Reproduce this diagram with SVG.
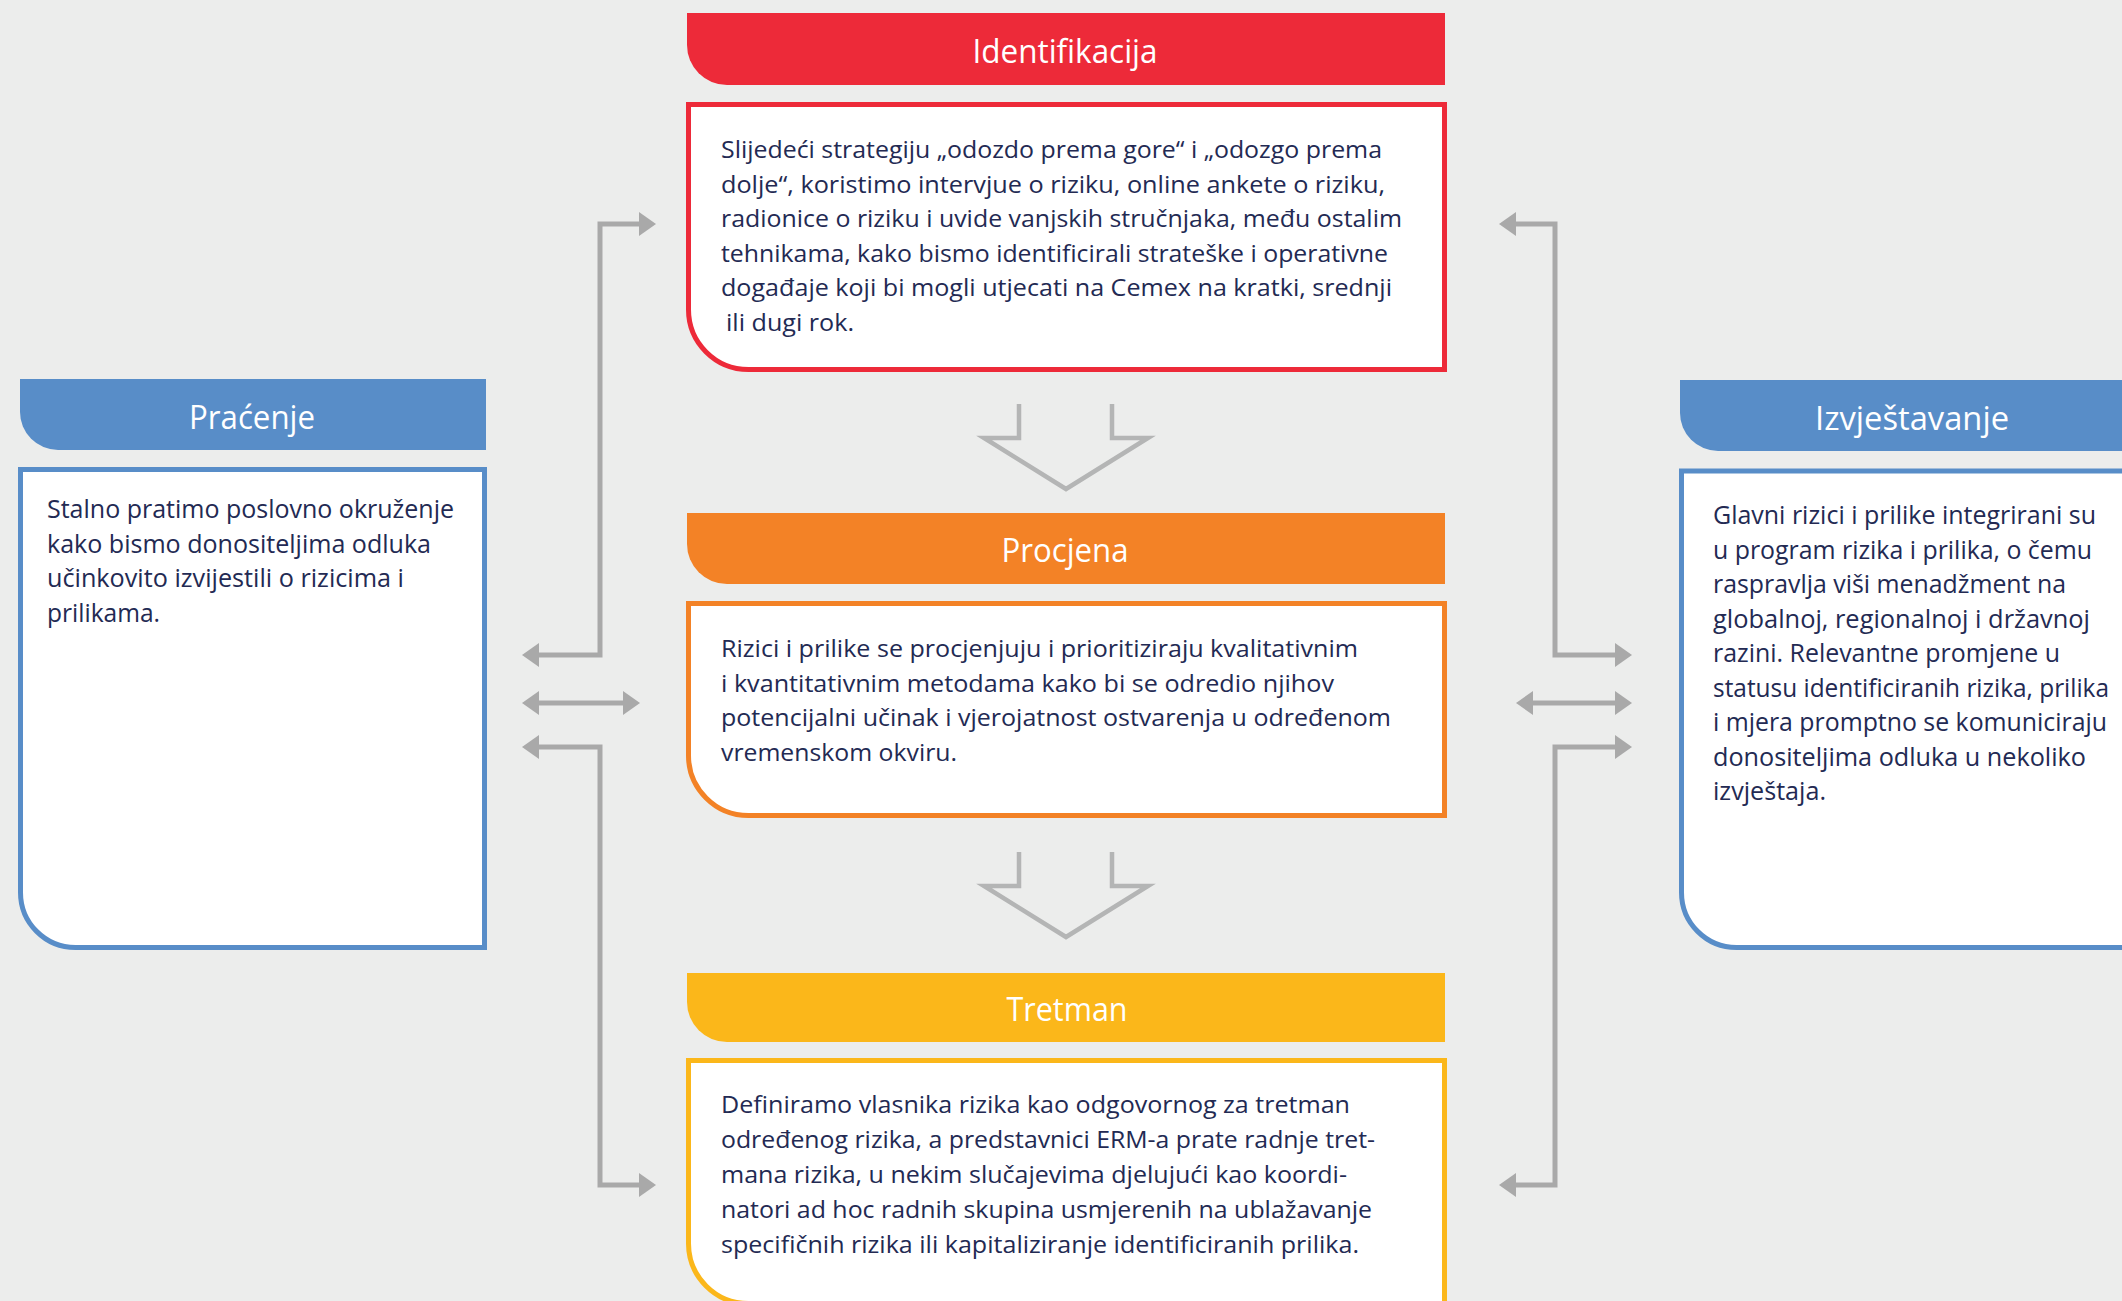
<svg xmlns="http://www.w3.org/2000/svg" width="2122" height="1301" viewBox="0 0 2122 1301">
<defs>
<style>
.hd{font-family:"Open Sans","Noto Sans","Liberation Sans",sans-serif;fill:#ffffff;text-anchor:middle;}
.hc{font-size:32px;}
.hs{font-size:33px;}
.bt{font-family:"Open Sans","Noto Sans","Liberation Sans",sans-serif;fill:#232a53;}
.bc{font-size:24px;}
.bs{font-size:25.5px;}
.box{fill:#ffffff;stroke-width:5;}
.con{fill:none;stroke:#a9a9a9;stroke-width:5;marker-start:url(#ah);marker-end:url(#ah);}
.chev{fill:none;stroke:#b4b5b5;stroke-width:4.5;}
</style>
<marker id="ah" viewBox="0 0 17 24" markerWidth="17" markerHeight="24" refX="0" refY="12" markerUnits="userSpaceOnUse" orient="auto-start-reverse">
<path d="M0,0 L17,12 L0,24 Z" fill="#a9a9a9"/>
</marker>
</defs>
<rect width="2122" height="1301" fill="#ecedec"/>

<g id="connectors">
<path class="con" d="M539,655 H600 V224 H639"/>
<path class="con" d="M539,703 H623"/>
<path class="con" d="M539,747 H600 V1185 H639"/>
<path class="con" d="M1516,224 H1555 V655 H1615"/>
<path class="con" d="M1533,703 H1615"/>
<path class="con" d="M1615,747 H1555 V1185 H1516"/>
<path class="chev" d="M1019,404 V438 H984 L1066,489 L1148,438 H1112 V404"/>
<path class="chev" d="M1019,852 V886 H984 L1066,937 L1148,886 H1112 V852"/>
</g>

<g id="identifikacija">
<path d="M687,13 H1445 V85 H727 A40,40 0 0 1 687,45 Z" fill="#ed2a39"/>
<text class="hd hc" x="1065" y="62.5" textLength="185" lengthAdjust="spacingAndGlyphs">Identifikacija</text>
<path class="box" stroke="#ed2a39" d="M688.5,104.5 H1444.5 V369.5 H748.5 A60,60 0 0 1 688.5,309.5 Z"/>
<text class="bt bc" x="721" y="158" textLength="661" lengthAdjust="spacingAndGlyphs">Slijedeći strategiju „odozdo prema gore“ i „odozgo prema</text>
<text class="bt bc" x="721" y="192.6" textLength="664" lengthAdjust="spacingAndGlyphs">dolje“, koristimo intervjue o riziku, online ankete o riziku,</text>
<text class="bt bc" x="721" y="227.2" textLength="681" lengthAdjust="spacingAndGlyphs">radionice o riziku i uvide vanjskih stručnjaka, među ostalim</text>
<text class="bt bc" x="721" y="261.8" textLength="667" lengthAdjust="spacingAndGlyphs">tehnikama, kako bismo identificirali strateške i operativne</text>
<text class="bt bc" x="721" y="296.4" textLength="671" lengthAdjust="spacingAndGlyphs">događaje koji bi mogli utjecati na Cemex na kratki, srednji</text>
<text class="bt bc" x="726" y="331" textLength="128" lengthAdjust="spacingAndGlyphs">ili dugi rok.</text>
</g>

<g id="procjena">
<path d="M687,513 H1445 V584 H727 A40,40 0 0 1 687,544 Z" fill="#f38226"/>
<text class="hd hc" x="1065" y="562" textLength="127" lengthAdjust="spacingAndGlyphs">Procjena</text>
<path class="box" stroke="#f38226" d="M688.5,603.5 H1444.5 V815.5 H748.5 A60,60 0 0 1 688.5,755.5 Z"/>
<text class="bt bc" x="721" y="657" textLength="637" lengthAdjust="spacingAndGlyphs">Rizici i prilike se procjenjuju i prioritiziraju kvalitativnim</text>
<text class="bt bc" x="721" y="691.5" textLength="613" lengthAdjust="spacingAndGlyphs">i kvantitativnim metodama kako bi se odredio njihov</text>
<text class="bt bc" x="721" y="726" textLength="670" lengthAdjust="spacingAndGlyphs">potencijalni učinak i vjerojatnost ostvarenja u određenom</text>
<text class="bt bc" x="721" y="760.5" textLength="236" lengthAdjust="spacingAndGlyphs">vremenskom okviru.</text>
</g>

<g id="tretman">
<path d="M687,973 H1445 V1042 H727 A40,40 0 0 1 687,1002 Z" fill="#fbb71a"/>
<text class="hd hc" x="1067" y="1021" textLength="121" lengthAdjust="spacingAndGlyphs">Tretman</text>
<path class="box" stroke="#fbb71a" d="M688.5,1060.5 H1444.5 V1303.5 H748.5 A60,60 0 0 1 688.5,1243.5 Z"/>
<text class="bt bc" x="721" y="1113" textLength="629" lengthAdjust="spacingAndGlyphs">Definiramo vlasnika rizika kao odgovornog za tretman</text>
<text class="bt bc" x="721" y="1148" textLength="654" lengthAdjust="spacingAndGlyphs">određenog rizika, a predstavnici ERM-a prate radnje tret-</text>
<text class="bt bc" x="721" y="1183" textLength="626" lengthAdjust="spacingAndGlyphs">mana rizika, u nekim slučajevima djelujući kao koordi-</text>
<text class="bt bc" x="721" y="1218" textLength="651" lengthAdjust="spacingAndGlyphs">natori ad hoc radnih skupina usmjerenih na ublažavanje</text>
<text class="bt bc" x="721" y="1253" textLength="638" lengthAdjust="spacingAndGlyphs">specifičnih rizika ili kapitaliziranje identificiranih prilika.</text>
</g>

<g id="pracenje">
<path d="M20,379 H486 V450 H58 A38,38 0 0 1 20,412 Z" fill="#588dc8"/>
<text class="hd hs" x="252" y="429" textLength="126" lengthAdjust="spacingAndGlyphs">Praćenje</text>
<path class="box" stroke="#588dc8" d="M20.5,469.5 H484.5 V947.5 H75.5 A55,55 0 0 1 20.5,892.5 Z"/>
<text class="bt bs" x="47" y="518" textLength="407" lengthAdjust="spacingAndGlyphs">Stalno pratimo poslovno okruženje</text>
<text class="bt bs" x="47" y="552.5" textLength="384" lengthAdjust="spacingAndGlyphs">kako bismo donositeljima odluka</text>
<text class="bt bs" x="47" y="587" textLength="357" lengthAdjust="spacingAndGlyphs">učinkovito izvijestili o rizicima i</text>
<text class="bt bs" x="47" y="621.5" textLength="113" lengthAdjust="spacingAndGlyphs">prilikama.</text>
</g>

<g id="izvjestavanje">
<path d="M1680,380 H2140 V451 H1718 A38,38 0 0 1 1680,413 Z" fill="#588dc8"/>
<text class="hd hs" x="1912" y="430" textLength="194" lengthAdjust="spacingAndGlyphs">Izvještavanje</text>
<path class="box" stroke="#588dc8" d="M1681.5,471 H2140 V947.5 H1736.5 A55,55 0 0 1 1681.5,892.5 Z"/>
<text class="bt bs" x="1713" y="524" textLength="383" lengthAdjust="spacingAndGlyphs">Glavni rizici i prilike integrirani su</text>
<text class="bt bs" x="1713" y="558.5" textLength="379" lengthAdjust="spacingAndGlyphs">u program rizika i prilika, o čemu</text>
<text class="bt bs" x="1713" y="593" textLength="353" lengthAdjust="spacingAndGlyphs">raspravlja viši menadžment na</text>
<text class="bt bs" x="1713" y="627.5" textLength="377" lengthAdjust="spacingAndGlyphs">globalnoj, regionalnoj i državnoj</text>
<text class="bt bs" x="1713" y="662" textLength="347" lengthAdjust="spacingAndGlyphs">razini. Relevantne promjene u</text>
<text class="bt bs" x="1713" y="696.5" textLength="396" lengthAdjust="spacingAndGlyphs">statusu identificiranih rizika, prilika</text>
<text class="bt bs" x="1713" y="731" textLength="394" lengthAdjust="spacingAndGlyphs">i mjera promptno se komuniciraju</text>
<text class="bt bs" x="1713" y="765.5" textLength="373" lengthAdjust="spacingAndGlyphs">donositeljima odluka u nekoliko</text>
<text class="bt bs" x="1713" y="800" textLength="113" lengthAdjust="spacingAndGlyphs">izvještaja.</text>
</g>
</svg>
